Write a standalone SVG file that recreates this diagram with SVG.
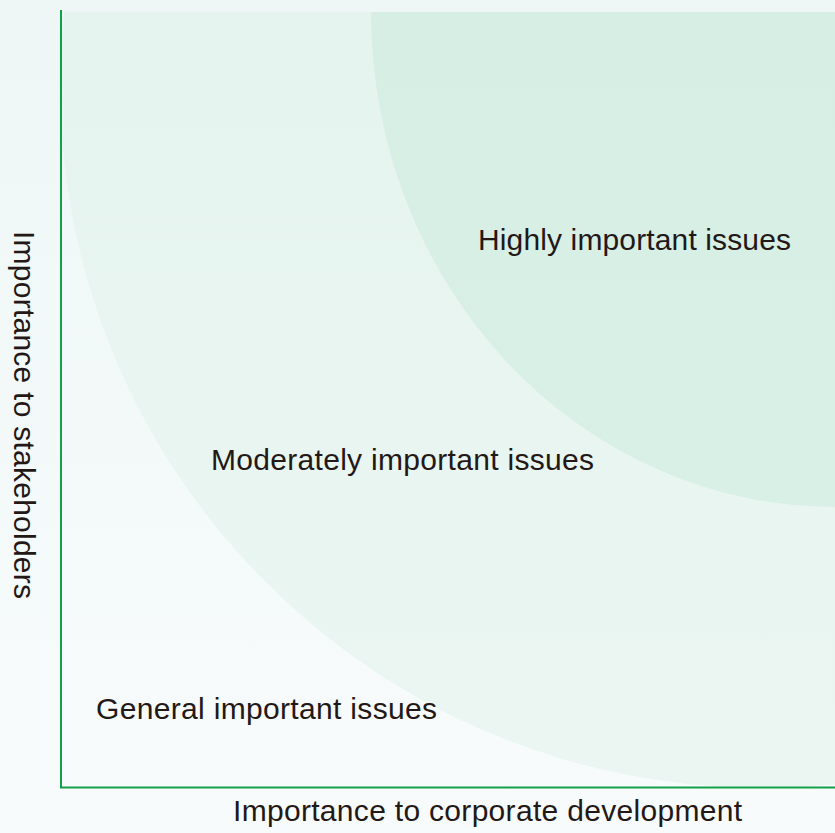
<svg xmlns="http://www.w3.org/2000/svg" width="835" height="833" viewBox="0 0 835 833">
  <style>
    .lbl { font-family: "Liberation Sans", Arial, sans-serif; font-size: 30px; fill: #231815; }
    .axis { stroke: #12a04a; stroke-width: 2; fill: none; }
  </style>
  <defs>
    <linearGradient id="bg" x1="0" y1="0" x2="0" y2="1">
      <stop offset="0" stop-color="#eef7f6"/>
      <stop offset="1" stop-color="#f8fbfc"/>
    </linearGradient>
    <linearGradient id="outerG" x1="0" y1="0" x2="0" y2="1">
      <stop offset="0" stop-color="#e1f2ec"/>
      <stop offset="1" stop-color="#ebf6f2"/>
    </linearGradient>
    <linearGradient id="innerG" x1="0" y1="0" x2="0" y2="1">
      <stop offset="0" stop-color="#d3ece2"/>
      <stop offset="1" stop-color="#d9f0e6"/>
    </linearGradient>
    <clipPath id="plot">
      <rect x="62" y="12" width="773" height="776"/>
    </clipPath>
  </defs>

  <rect x="0" y="0" width="835" height="833" fill="url(#bg)"/>

  <g id="zones" clip-path="url(#plot)">
    <g id="moderate-zone">
      <ellipse cx="762" cy="85" rx="702" ry="703" fill="url(#outerG)"/>
    </g>
    <g id="high-zone">
      <ellipse cx="835" cy="12" rx="464" ry="495" fill="url(#innerG)"/>
    </g>
  </g>

  <g id="axes">
    <line class="axis" x1="61" y1="10" x2="61" y2="788"/>
    <line class="axis" x1="60" y1="787.5" x2="835" y2="787.5"/>
  </g>

  <g id="label-high">
    <text class="lbl" x="478" y="249.5" textLength="313">Highly important issues</text>
  </g>
  <g id="label-moderate">
    <text class="lbl" x="211" y="470" textLength="383">Moderately important issues</text>
  </g>
  <g id="label-general">
    <text class="lbl" x="96" y="719" textLength="341">General important issues</text>
  </g>
  <g id="axis-x-title">
    <text class="lbl" x="233" y="821" textLength="509">Importance to corporate development</text>
  </g>
  <g id="axis-y-title">
    <text class="lbl" transform="translate(14,231) rotate(90)" x="0" y="0" textLength="368">Importance to stakeholders</text>
  </g>
</svg>
